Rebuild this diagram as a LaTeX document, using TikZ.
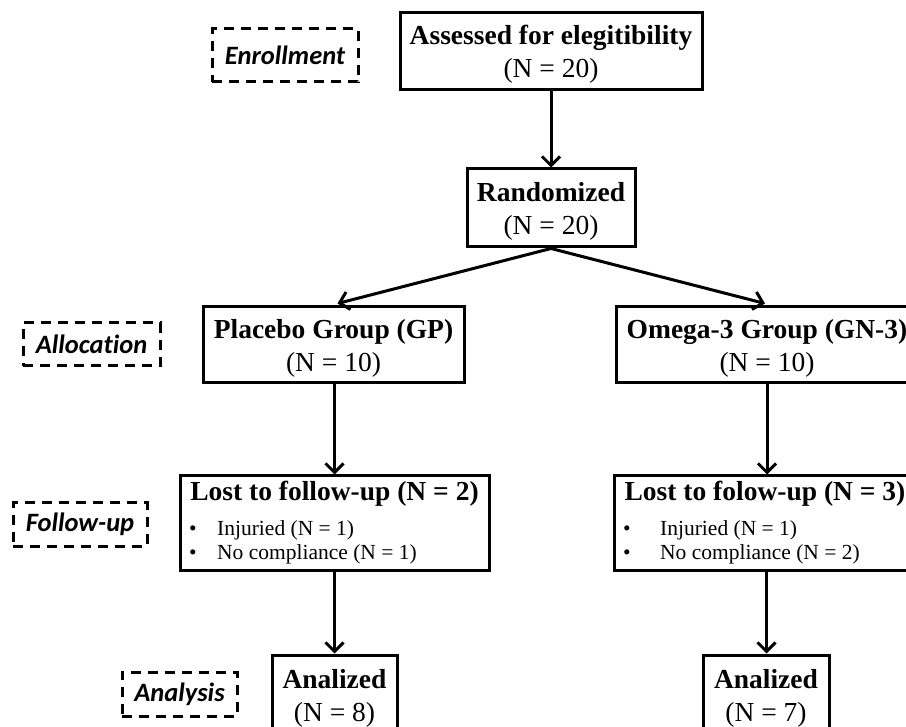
\documentclass[tikz,border=0pt]{standalone}
\usepackage{fontspec}
\setmainfont{Liberation Serif}
\newfontfamily\lblfont[Ligatures=NoCommon]{Carlito}
\usetikzlibrary{arrows.meta}
\newcommand\tpstrut{\rule{0pt}{25pt}}
\begin{document}
\begin{tikzpicture}[x=1pt,y=-1pt,
  box/.style={draw, line width=3pt, inner sep=0pt, align=center, font=\fontsize{27.5}{33}\selectfont},
  plain/.style={inner sep=0pt, align=left},
  bl/.style={plain, font=\fontsize{21.5}{24}\selectfont},
  tl/.style={plain, font=\fontsize{27.5}{32}\selectfont\bfseries},
  lbl/.style={draw, dash pattern=on 10pt off 7pt, line width=3pt, inner sep=0pt, font=\fontsize{26.5}{30}\lblfont\bfseries\itshape},
  arr/.style={line width=3pt, -{Straight Barb[length=9pt,width=18pt,line width=3pt]}},
]
\useasboundingbox (0,0) rectangle (906,727);
% dashed stage labels
\node[lbl, minimum width=146pt, minimum height=53pt] (enr) at (285,55.5) {Enrollment};
\node[lbl, minimum width=137pt, minimum height=43pt] (alo) at (91.5,344.5) {Allocation};
\node[lbl, minimum width=134pt, minimum height=43pt] (fol) at (80,524.5) {Follow-up};
\node[lbl, minimum width=115pt, minimum height=44pt] (ana) at (179.5,694) {Analysis};
% boxes
\node[box, minimum width=302pt, minimum height=77pt] (b1) at (551,51.5) {\tpstrut\textbf{Assessed for elegitibility}\\(N = 20)};
\node[box, minimum width=168pt, minimum height=78pt] (rand) at (551,208) {\tpstrut\textbf{Randomized}\\(N = 20)};
\node[box, minimum width=261pt, minimum height=76pt] (plac) at (333.5,345) {\tpstrut\textbf{Placebo Group (GP)}\\(N = 10)};
\node[box, minimum width=302pt, minimum height=76pt] (omeg) at (767,345) {\tpstrut\textbf{Omega-3 Group (GN-3)}\\(N = 10)};
\node[box, minimum width=309pt, minimum height=94pt] (fl) at (334.5,523) {};
\node[box, minimum width=306pt, minimum height=94pt] (fr) at (767,523) {};
\node[box, minimum width=125pt, minimum height=86pt] (al) at (334.5,698) {\textbf{Analized}\\(N = 8)};
\node[box, minimum width=126pt, minimum height=86pt] (ar) at (766,698) {\textbf{Analized}\\(N = 7)};
% follow-up texts
\node[tl] (flt) at (334.5,494) {Lost to follow-up (N = 2)};
\node[bl, anchor=west] (fl1) at (189,530.5) {\makebox[28pt][l]{\textbullet}Injuried (N = 1)};
\node[bl, anchor=west] (fl2) at (189,554) {\makebox[28pt][l]{\textbullet}No compliance (N = 1)};
\node[tl] (frt) at (765,494) {Lost to folow-up (N = 3)};
\node[bl, anchor=west] (fr1) at (623,530.5) {\makebox[37pt][l]{\textbullet}Injuried (N = 1)};
\node[bl, anchor=west] (fr2) at (623,554) {\makebox[37pt][l]{\textbullet}No compliance (N = 2)};
% connectors
\draw[arr] (b1.south) -- (rand.north);
\draw[arr] (rand.south) -- ([xshift=4pt,yshift=2pt]plac.north);
\draw[arr] (rand.south) -- ([xshift=-2pt,yshift=2pt]omeg.north);
\draw[arr] ([xshift=1pt]plac.south) -- ([xshift=1pt]plac.south |- fl.north);
\draw[arr] (omeg.south) -- (omeg.south |- fr.north);
\draw[arr] (fl.south) -- (fl.south |- al.north);
\draw[arr] ([xshift=-0.5pt]fr.south) -- ([xshift=-0.5pt]fr.south |- ar.north);
\end{tikzpicture}
\end{document}
